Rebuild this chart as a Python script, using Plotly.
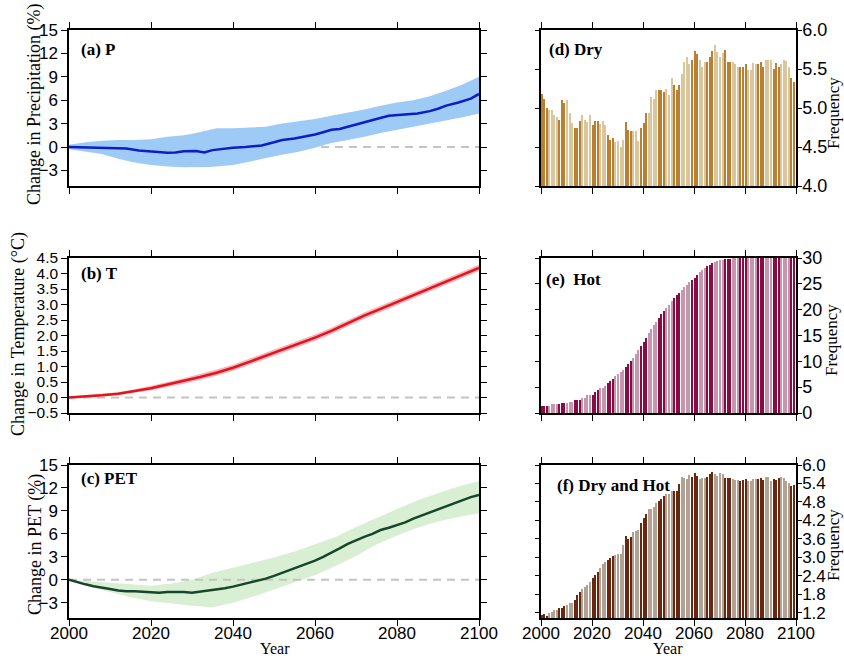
import plotly.graph_objects as go

# ---------------- data ----------------
# (a) Precipitation change (%)
P_years = [2000, 2004, 2008, 2012, 2014, 2017, 2020, 2024, 2026, 2028, 2031, 2033, 2035, 2038, 2040,
           2043, 2045, 2047, 2050, 2052, 2055, 2058, 2060, 2062, 2064, 2066, 2068, 2070, 2072, 2075,
           2078, 2080, 2083, 2085, 2088, 2090, 2092, 2095, 2098, 2100]
P_mean = [0.0, -0.05, -0.1, -0.2, -0.2, -0.45, -0.6, -0.75, -0.7, -0.55, -0.5, -0.7, -0.4, -0.2, -0.1,
          0.0, 0.1, 0.2, 0.6, 0.9, 1.1, 1.4, 1.6, 1.9, 2.2, 2.3, 2.6, 2.9, 3.2, 3.6,
          4.0, 4.1, 4.2, 4.3, 4.6, 4.9, 5.3, 5.7, 6.2, 6.8]
P_band_years = [2000, 2004, 2008, 2012, 2016, 2020, 2024, 2028, 2031, 2034, 2036, 2040, 2044, 2048,
                2052, 2056, 2060, 2064, 2068, 2072, 2076, 2080, 2084, 2088, 2092, 2096, 2100]
P_upper = [0.3, 0.6, 0.8, 0.9, 0.9, 1.0, 1.3, 1.5, 1.8, 2.2, 2.4, 2.4, 2.5, 2.6,
           3.0, 3.3, 3.6, 4.0, 4.4, 4.8, 5.3, 5.7, 6.0, 6.5, 7.2, 8.0, 9.0]
P_lower = [-0.3, -0.6, -0.9, -1.5, -2.0, -2.3, -2.5, -2.6, -2.6, -2.55, -2.5, -2.3, -1.9, -1.4,
           -1.0, -0.6, -0.1, 0.5, 0.9, 1.3, 1.8, 2.2, 2.6, 3.0, 3.4, 3.8, 4.3]

# (b) Temperature change (degC)
T_years = [2000, 2004, 2008, 2012, 2016, 2020, 2024, 2028, 2032, 2036, 2040, 2044, 2048, 2052,
           2056, 2060, 2064, 2068, 2072, 2076, 2080, 2084, 2088, 2092, 2096, 2100]
T_mean = [0.0, 0.03, 0.07, 0.12, 0.2, 0.3, 0.42, 0.53, 0.66, 0.8, 0.96, 1.15, 1.34, 1.53,
          1.72, 1.93, 2.15, 2.4, 2.64, 2.86, 3.08, 3.3, 3.53, 3.74, 3.95, 4.18]
T_upper = [0.03, 0.07, 0.11, 0.17, 0.26, 0.37, 0.5, 0.62, 0.75, 0.9, 1.06, 1.25, 1.44, 1.63,
           1.82, 2.03, 2.25, 2.5, 2.74, 2.96, 3.18, 3.4, 3.63, 3.84, 4.05, 4.28]
T_lower = [-0.03, -0.01, 0.03, 0.07, 0.14, 0.23, 0.34, 0.44, 0.57, 0.7, 0.86, 1.05, 1.24, 1.43,
           1.62, 1.83, 2.05, 2.3, 2.54, 2.76, 2.98, 3.2, 3.43, 3.64, 3.85, 4.08]

# (c) PET change (%)
PET_years = [2000, 2002, 2004, 2006, 2008, 2010, 2012, 2014, 2016, 2018, 2020, 2022, 2024, 2026,
             2028, 2030, 2032, 2034, 2036, 2038, 2040, 2042, 2044, 2046, 2048, 2050, 2052, 2054,
             2056, 2058, 2060, 2062, 2064, 2066, 2068, 2070, 2072, 2074, 2076, 2078, 2080, 2082,
             2084, 2086, 2088, 2090, 2092, 2094, 2096, 2098, 2100]
PET_mean = [0.0, -0.35, -0.6, -0.85, -1.0, -1.2, -1.4, -1.5, -1.5, -1.55, -1.65, -1.7, -1.6, -1.6,
            -1.6, -1.7, -1.55, -1.35, -1.3, -1.1, -0.9, -0.65, -0.45, -0.2, 0.15, 0.5, 0.9, 1.2,
            1.6, 2.0, 2.5, 3.0, 3.5, 4.1, 4.7, 5.2, 5.6, 6.0, 6.5, 6.8, 7.1, 7.5,
            8.0, 8.4, 8.9, 9.3, 9.7, 10.1, 10.5, 10.8, 11.1]
PET_band_years = [2000, 2005, 2010, 2015, 2020, 2025, 2030, 2035, 2040, 2045, 2050, 2055, 2060,
                  2065, 2070, 2075, 2080, 2085, 2090, 2095, 2100]
PET_upper = [0.0, -0.2, -0.45, -0.6, -0.8, -0.5, 0.0, 0.9, 1.6, 2.2, 2.9, 3.7, 4.6,
             5.6, 6.9, 8.1, 9.3, 10.4, 11.3, 12.2, 12.9]
PET_lower = [0.0, -0.9, -1.6, -2.3, -2.8, -3.1, -3.4, -3.6, -3.0, -2.2, -1.3, -0.4, 0.6,
             1.8, 3.1, 4.6, 5.8, 6.8, 7.6, 8.2, 8.7]

# (d)-(f) yearly frequencies
bar_years = list(range(2000, 2100))
Dry = [5.18, 5.11, 5.00, 4.97, 4.97, 4.91, 4.88, 4.85, 5.10, 5.07,
       5.10, 4.94, 4.81, 4.74, 4.74, 4.83, 4.91, 4.84, 4.82, 4.91,
       4.78, 4.83, 4.83, 4.79, 4.83, 4.78, 4.65, 4.59, 4.61, 4.56,
       4.58, 4.50, 4.59, 4.82, 4.72, 4.71, 4.71, 4.71, 4.58, 4.74,
       4.81, 4.94, 4.94, 5.14, 5.11, 5.23, 5.23, 5.23, 5.20, 5.24,
       5.17, 5.39, 5.29, 5.23, 5.29, 5.43, 5.59, 5.66, 5.57, 5.61,
       5.73, 5.69, 5.62, 5.52, 5.59, 5.59, 5.65, 5.73, 5.81, 5.72,
       5.66, 5.71, 5.74, 5.59, 5.59, 5.59, 5.56, 5.53, 5.53, 5.52,
       5.57, 5.49, 5.49, 5.58, 5.57, 5.57, 5.59, 5.52, 5.61, 5.62,
       5.62, 5.50, 5.58, 5.52, 5.56, 5.62, 5.60, 5.52, 5.39, 5.33]
Hot = [1.4, 1.4, 1.4, 1.4, 1.7, 1.7, 1.7, 1.7, 1.95, 1.95,
       1.95, 2.2, 2.2, 2.6, 2.6, 2.6, 3.0, 3.0, 3.5, 3.5,
       3.5, 4.0, 4.4, 4.8, 4.9, 5.3, 5.9, 6.2, 6.6, 7.1,
       7.5, 8.0, 8.4, 9.0, 9.5, 10.0, 10.6, 11.5, 12.2, 13.0,
       13.8, 14.6, 15.4, 16.3, 17.0, 17.6, 18.4, 19.2, 19.8, 20.4,
       21.0, 21.6, 22.2, 22.8, 23.3, 23.8, 24.3, 24.8, 25.3, 25.8,
       26.2, 26.7, 27.2, 27.6, 28.0, 28.4, 28.7, 29.0, 29.3, 29.5,
       29.6, 29.7, 29.8, 29.9, 29.9, 30, 30, 30, 30, 30,
       30, 30, 30, 30, 30, 30, 30, 30, 30, 30,
       30, 30, 30, 30, 30, 30, 30, 30, 30, 30]
DryHot = [1.14, 1.17, 1.10, 1.18, 1.22, 1.28, 1.28, 1.36, 1.36, 1.41,
          1.46, 1.52, 1.52, 1.63, 1.79, 1.86, 1.97, 2.04, 2.11, 2.19,
          2.33, 2.44, 2.51, 2.65, 2.79, 2.84, 2.90, 2.98, 3.03, 3.08,
          3.11, 3.12, 3.41, 3.70, 3.59, 3.66, 3.81, 3.87, 3.89, 4.13,
          4.27, 4.41, 4.56, 4.56, 4.65, 4.76, 4.84, 4.89, 5.00, 5.05,
          5.05, 5.17, 5.17, 5.17, 5.38, 5.60, 5.57, 5.54, 5.68, 5.62,
          5.73, 5.64, 5.54, 5.57, 5.57, 5.62, 5.71, 5.78, 5.71, 5.64,
          5.73, 5.70, 5.57, 5.57, 5.57, 5.54, 5.51, 5.51, 5.49, 5.51,
          5.54, 5.49, 5.49, 5.54, 5.54, 5.54, 5.57, 5.51, 5.60, 5.60,
          5.49, 5.54, 5.51, 5.57, 5.60, 5.57, 5.49, 5.41, 5.32, 5.35]

year_ticks = [2000, 2020, 2040, 2060, 2080, 2100]

# ---------------- figure ----------------
W, H = 844, 658
fig = go.Figure()

def px_x(a, b):
    return [a / W, b / W]

def px_y(top, bottom):
    return [1 - bottom / H, 1 - top / H]

LEFT = px_x(69, 479)
RIGHT = px_x(541, 796)
ROWS = [px_y(30, 186), px_y(258, 413), px_y(465, 618)]

tick_font = dict(family="Liberation Sans, Arial, sans-serif", size=17, color="black")
serif = "Liberation Serif, Times New Roman, serif"

def xax(domain, anchor, show_labels):
    return dict(domain=domain, anchor=anchor, range=[2000, 2100], tickvals=year_ticks,
                showticklabels=show_labels, ticks="outside", ticklen=6, tickwidth=1.2,
                tickcolor="black", showline=True, linecolor="black", linewidth=1.5,
                mirror="ticks", showgrid=False, zeroline=False, automargin=False,
                ticklabelstandoff=-7, tickfont=dict(tick_font, size=17))

def yax(domain, anchor, rng, tickvals, fmt, side="left", fsize=None):
    size = fsize if fsize else (17 if side == "left" else 18)
    return dict(domain=domain, anchor=anchor, range=rng, tickvals=tickvals, tickformat=fmt,
                side=side, ticks="outside", ticklen=6 if side == "left" else 4, tickwidth=1.2,
                tickcolor="black", showline=True, linecolor="black", linewidth=1.5,
                mirror="ticks", showgrid=False, zeroline=False, automargin=False,
                ticklabelstandoff=0 if side == "left" else -3,
                tickfont=dict(tick_font, size=size))

grey_dash = dict(color="#c4c4c4", width=2, dash="8px,6px")

# (a) P
fig.add_trace(go.Scatter(x=[P_years[0], P_years[-1]], y=[0, 0], mode="lines", line=grey_dash,
                         xaxis="x", yaxis="y", hoverinfo="skip"))
fig.add_trace(go.Scatter(x=P_band_years, y=P_upper, mode="lines", line=dict(width=0, color="#9ecbf6"),
                         xaxis="x", yaxis="y"))
fig.add_trace(go.Scatter(x=P_band_years, y=P_lower, mode="lines", line=dict(width=0, color="#9ecbf6"),
                         fill="tonexty", fillcolor="#9ecbf6", xaxis="x", yaxis="y"))
fig.add_trace(go.Scatter(x=P_years, y=P_mean, mode="lines", line=dict(color="#0c1ec4", width=2.5),
                         xaxis="x", yaxis="y"))

# (b) T
fig.add_trace(go.Scatter(x=T_years, y=T_upper, mode="lines", line=dict(width=0, color="#f6b3bd"),
                         xaxis="x2", yaxis="y2"))
fig.add_trace(go.Scatter(x=T_years, y=T_lower, mode="lines", line=dict(width=0, color="#f6b3bd"),
                         fill="tonexty", fillcolor="#f6b3bd", xaxis="x2", yaxis="y2"))
fig.add_trace(go.Scatter(x=[T_years[0], T_years[-1]], y=[0, 0], mode="lines", line=grey_dash,
                         xaxis="x2", yaxis="y2"))
fig.add_trace(go.Scatter(x=T_years, y=T_mean, mode="lines", line=dict(color="#e3141c", width=2.5),
                         xaxis="x2", yaxis="y2"))

# (c) PET
fig.add_trace(go.Scatter(x=PET_band_years, y=PET_upper, mode="lines", line=dict(width=0, color="#d9efd3"),
                         xaxis="x3", yaxis="y3"))
fig.add_trace(go.Scatter(x=PET_band_years, y=PET_lower, mode="lines", line=dict(width=0, color="#d9efd3"),
                         fill="tonexty", fillcolor="#d9efd3", xaxis="x3", yaxis="y3"))
fig.add_trace(go.Scatter(x=[PET_years[0], PET_years[-1]], y=[0, 0], mode="lines", line=grey_dash,
                         xaxis="x3", yaxis="y3"))
fig.add_trace(go.Scatter(x=PET_years, y=PET_mean, mode="lines", line=dict(color="#17472a", width=2.5),
                         xaxis="x3", yaxis="y3"))

# (d)-(f) bars; two shades imitate the rasterised look of the thin bars in the original
def shades(dark, light):
    return [dark if (i * 0.154) % 1 < 0.45 else light for i in range(len(bar_years))]

fig.add_trace(go.Bar(x=bar_years, y=Dry, offset=0, width=0.6,
                     marker=dict(color=shades("#bb7f32", "#dac69c"), line=dict(width=0)),
                     xaxis="x4", yaxis="y4"))
fig.add_trace(go.Bar(x=bar_years, y=Hot, offset=0, width=0.6,
                     marker=dict(color=shades("#8a0a44", "#c596ad"), line=dict(width=0)),
                     xaxis="x5", yaxis="y5"))
fig.add_trace(go.Bar(x=bar_years, y=DryHot, offset=0, width=0.6,
                     marker=dict(color=shades("#692710", "#b2a293"), line=dict(width=0)),
                     xaxis="x6", yaxis="y6"))

fig.update_layout(
    template="none",
    width=W, height=H, margin=dict(l=0, r=0, t=0, b=0, autoexpand=False),
    paper_bgcolor="white", plot_bgcolor="white", showlegend=False,
    xaxis=xax(LEFT, "y", False),
    xaxis2=xax(LEFT, "y2", False),
    xaxis3=xax(LEFT, "y3", True),
    xaxis4=xax(RIGHT, "y4", False),
    xaxis5=xax(RIGHT, "y5", False),
    xaxis6=xax(RIGHT, "y6", True),
    yaxis=yax(ROWS[0], "x", [-5, 15], [-3, 0, 3, 6, 9, 12, 15], "d"),
    yaxis2=yax(ROWS[1], "x2", [-0.5, 4.5], [-0.5 + 0.5 * i for i in range(11)], ".1f", fsize=15.5),
    yaxis3=yax(ROWS[2], "x3", [-5, 15], [-3, 0, 3, 6, 9, 12, 15], "d"),
    yaxis4=yax(ROWS[0], "x4", [4.0, 6.0], [4.0, 4.5, 5.0, 5.5, 6.0], ".1f", side="right"),
    yaxis5=yax(ROWS[1], "x5", [0, 30], [0, 5, 10, 15, 20, 25, 30], "d", side="right"),
    yaxis6=yax(ROWS[2], "x6", [1.03, 6.0], [1.2 + 0.6 * i for i in range(9)], ".1f", side="right",
               fsize=17),
    bargap=0,
)

def ann(text, x, y, size, bold=False, angle=0, xanchor="center", yanchor="middle"):
    fig.add_annotation(text=f"<b>{text}</b>" if bold else text, x=x / W, y=1 - y / H,
                       xref="paper", yref="paper", showarrow=False, textangle=angle,
                       xanchor=xanchor, yanchor=yanchor, borderpad=0,
                       font=dict(family=serif, size=size, color="black"))

# panel labels
ann("(a) P", 80, 50, 17, bold=True, xanchor="left")
ann("(b) T", 80, 273, 17, bold=True, xanchor="left")
ann("(c) PET", 80, 479, 17, bold=True, xanchor="left")
ann("(d) Dry", 548, 50, 17, bold=True, xanchor="left")
ann("(e)  Hot", 545, 280, 17, bold=True, xanchor="left")
ann("(f) Dry and Hot", 556, 485, 17, bold=True, xanchor="left")

# axis titles
ann("Change in Precipitation (%)", 35, 105, 18, angle=-90)
ann("Change in Temperature (°C)", 18, 334, 18, angle=-90)
ann("Change in PET (%)", 35, 545, 18, angle=-90)
ann("Frequency", 833, 113, 17, angle=-90)
ann("Frequency", 831, 340, 17, angle=-90)
ann("Frequency", 833, 545, 17, angle=-90)
ann("Year", 275, 658, 16, yanchor="bottom")
ann("Year", 668, 658, 16, yanchor="bottom")

fig.write_html("out.html")
